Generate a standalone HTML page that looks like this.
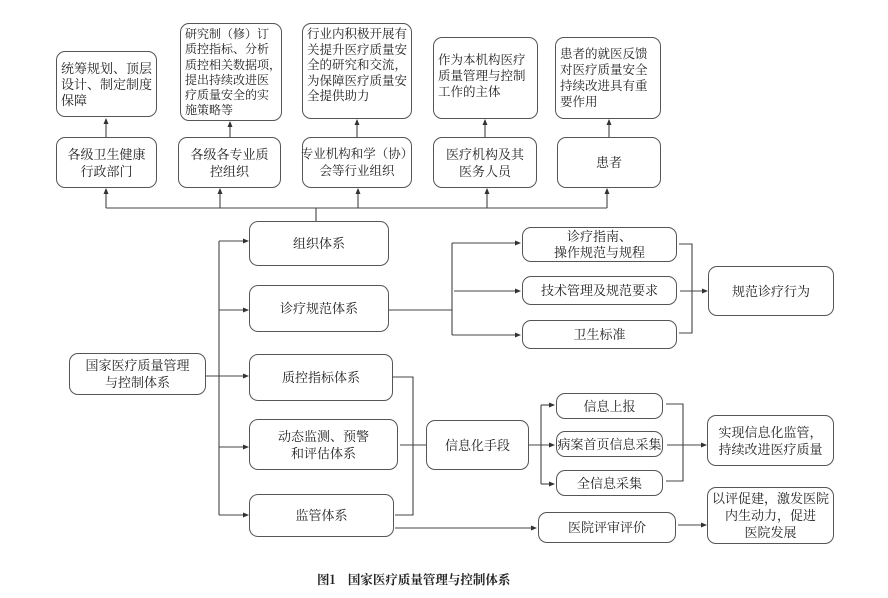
<!DOCTYPE html>
<html><head><meta charset="utf-8"><style>
html,body{margin:0;padding:0;background:#fff;}
body{width:888px;height:598px;position:relative;overflow:hidden;font-family:"Liberation Serif","Noto Serif CJK SC","Noto Sans CJK SC",serif;color:#222;}
.b{position:absolute;box-sizing:border-box;border:1.3px solid #555;border-radius:9px;display:flex;align-items:center;justify-content:center;text-align:center;font-size:13px;line-height:17px;white-space:nowrap;}
.t{display:block;text-align:left;padding:6px 0 0 4px;line-height:16px;font-size:12.5px;}
svg{position:absolute;left:0;top:0;}
.cap{position:absolute;left:317px;top:570px;font-size:12.5px;font-weight:bold;font-family:"Noto Serif CJK SC","Noto Sans CJK SC",serif;white-space:pre;}
</style></head><body>
<svg width="888" height="598" viewBox="0 0 888 598">
<defs><marker id="a" markerWidth="6" markerHeight="6" refX="5" refY="3" orient="auto" markerUnits="userSpaceOnUse"><path d="M0,0.5 L6,3 L0,5.5z" fill="#333"/></marker></defs>
<g stroke="#444" stroke-width="1.1" fill="none">
<line x1="106" y1="137" x2="106" y2="119" marker-end="url(#a)"/>
<line x1="230" y1="137" x2="230" y2="122" marker-end="url(#a)"/>
<line x1="357" y1="137" x2="357" y2="120" marker-end="url(#a)"/>
<line x1="485" y1="137" x2="485" y2="120" marker-end="url(#a)"/>
<line x1="609" y1="137" x2="609" y2="120" marker-end="url(#a)"/>
<line x1="106" y1="208" x2="607" y2="208"/>
<line x1="106" y1="208" x2="106" y2="189" marker-end="url(#a)"/>
<line x1="220" y1="208" x2="220" y2="189" marker-end="url(#a)"/>
<line x1="358" y1="208" x2="358" y2="189" marker-end="url(#a)"/>
<line x1="487" y1="208" x2="487" y2="189" marker-end="url(#a)"/>
<line x1="607" y1="208" x2="607" y2="189" marker-end="url(#a)"/>
<line x1="316" y1="208" x2="316" y2="221"/>
<line x1="219" y1="241" x2="219" y2="515"/>
<line x1="219" y1="241" x2="248" y2="241" marker-end="url(#a)"/>
<line x1="219" y1="310" x2="248" y2="310" marker-end="url(#a)"/>
<line x1="206" y1="376" x2="248" y2="376" marker-end="url(#a)"/>
<line x1="219" y1="447" x2="248" y2="447" marker-end="url(#a)"/>
<line x1="219" y1="515" x2="248" y2="515" marker-end="url(#a)"/>
<line x1="389" y1="310" x2="452" y2="310"/>
<line x1="452" y1="243" x2="452" y2="335"/>
<line x1="452" y1="243" x2="520" y2="243" marker-end="url(#a)"/>
<line x1="454" y1="291" x2="520" y2="291" marker-end="url(#a)"/>
<line x1="452" y1="335" x2="520" y2="335" marker-end="url(#a)"/>
<polyline points="679,244 692,244 692,333 679,333"/>
<line x1="680" y1="291" x2="707" y2="291" marker-end="url(#a)"/>
<polyline points="393,377 413,377 413,515 395,515"/>
<line x1="400" y1="445" x2="426" y2="445"/>
<line x1="529" y1="445" x2="554" y2="445" marker-end="url(#a)"/>
<line x1="541" y1="405" x2="541" y2="484"/>
<line x1="541" y1="405" x2="554" y2="405" marker-end="url(#a)"/>
<line x1="541" y1="484" x2="554" y2="484" marker-end="url(#a)"/>
<polyline points="666,404 683,404 683,481 666,481"/>
<line x1="667" y1="445" x2="706" y2="445" marker-end="url(#a)"/>
<line x1="395" y1="528" x2="536" y2="528" marker-end="url(#a)"/>
<line x1="678" y1="525" x2="706" y2="525" marker-end="url(#a)"/>
</g></svg>

<div class="b t" style="left:56px;top:51px;width:101px;height:66px;padding-top:9px;font-size:13px;">统筹规划、顶层<br>设计、制定制度<br>保障</div>
<div class="b t" style="left:180px;top:23px;width:102px;height:98px;padding-top:3px;font-size:12px;line-height:15.3px;">研究制（修）订<br>质控指标、分析<br>质控相关数据项，<br>提出持续改进医<br>疗质量安全的实<br>施策略等</div>
<div class="b t" style="left:302px;top:23px;width:110px;height:96px;padding-top:3px;font-size:12.5px;line-height:15.5px;">行业内积极开展有<br>关提升医疗质量安<br>全的研究和交流，<br>为保障医疗质量安<br>全提供助力</div>
<div class="b t" style="left:433px;top:37px;width:105px;height:82px;padding-top:14px;font-size:12.5px;">作为本机构医疗<br>质量管理与控制<br>工作的主体</div>
<div class="b t" style="left:555px;top:37px;width:106px;height:82px;padding-top:8px;font-size:12.5px;">患者的就医反馈<br>对医疗质量安全<br>持续改进具有重<br>要作用</div>

<div class="b" style="left:56px;top:137px;width:101px;height:51px;">各级卫生健康<br>行政部门</div>
<div class="b" style="left:178px;top:137px;width:103px;height:51px;">各级各专业质<br>控组织</div>
<div class="b" style="left:302px;top:137px;width:110px;height:51px;font-size:12.5px;">专业机构和学（协）<br>会等行业组织</div>
<div class="b" style="left:433px;top:137px;width:104px;height:51px;">医疗机构及其<br>医务人员</div>
<div class="b" style="left:557px;top:137px;width:104px;height:51px;">患者</div>

<div class="b" style="left:69px;top:353px;width:137px;height:42px;">国家医疗质量管理<br>与控制体系</div>
<div class="b" style="left:249px;top:221px;width:140px;height:45px;">组织体系</div>
<div class="b" style="left:249px;top:285px;width:140px;height:47px;">诊疗规范体系</div>
<div class="b" style="left:249px;top:354px;width:144px;height:47px;">质控指标体系</div>
<div class="b" style="left:249px;top:419px;width:149px;height:51px;">动态监测、预警<br>和评估体系</div>
<div class="b" style="left:249px;top:494px;width:145px;height:43px;">监管体系</div>

<div class="b" style="left:522px;top:227px;width:155px;height:35px;line-height:16px;">诊疗指南、<br>操作规范与规程</div>
<div class="b" style="left:522px;top:276px;width:155px;height:29px;">技术管理及规范要求</div>
<div class="b" style="left:522px;top:320px;width:155px;height:29px;">卫生标准</div>
<div class="b" style="left:708px;top:266px;width:126px;height:50px;">规范诊疗行为</div>

<div class="b" style="left:426px;top:420px;width:103px;height:50px;">信息化手段</div>
<div class="b" style="left:556px;top:393px;width:107px;height:26px;">信息上报</div>
<div class="b" style="left:556px;top:431px;width:107px;height:26px;">病案首页信息采集</div>
<div class="b" style="left:556px;top:470px;width:107px;height:26px;">全信息采集</div>
<div class="b" style="left:707px;top:415px;width:127px;height:51px;">实现信息化监管，<br>持续改进医疗质量</div>
<div class="b" style="left:538px;top:512px;width:138px;height:31px;">医院评审评价</div>
<div class="b" style="left:707px;top:487px;width:127px;height:57px;">以评促建，激发医院<br>内生动力，促进<br>医院发展</div>

<div class="cap">图1    国家医疗质量管理与控制体系</div>
</body></html>
